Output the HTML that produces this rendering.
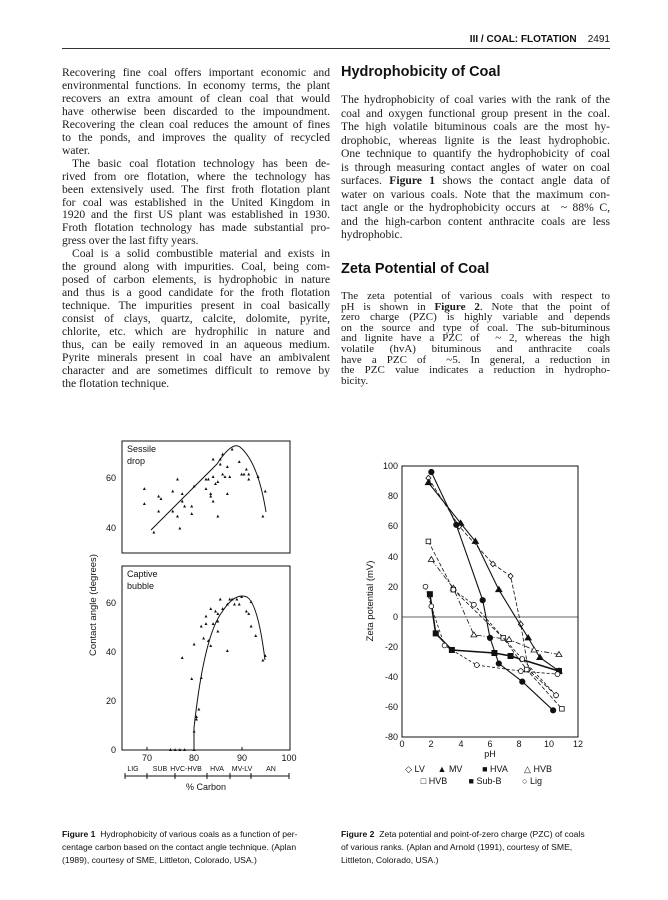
<!DOCTYPE html>
<html><head><meta charset="utf-8"><style>
body{margin:0;background:#fff;}
#pg{position:relative;width:668px;height:900px;overflow:hidden;background:#fff;}
.t{position:absolute;font-family:"Liberation Serif",serif;font-size:11.6px;line-height:13px;color:#1a1a1a;white-space:nowrap;}
.j{text-align:justify;text-align-last:justify;white-space:normal;}
.h{position:absolute;font-family:"Liberation Sans",sans-serif;font-weight:bold;font-size:14.5px;color:#111;}
.c{position:absolute;font-family:"Liberation Sans",sans-serif;font-size:8.6px;line-height:13px;color:#111;}
</style></head><body><div id="pg">
<div class="c" style="left:400px;top:33px;width:210px;text-align:right;font-size:10px;font-weight:bold;">III / COAL: FLOTATION&nbsp;&nbsp;&nbsp;&nbsp;<span style="font-weight:normal">2491</span></div>
<div style="position:absolute;left:62px;top:48px;width:548px;height:1px;background:#333"></div>

<div id="L"></div><div id="R"></div>
<div class="h" style="left:341px;top:64px;">Hydrophobicity of Coal</div>
<div class="h" style="left:341px;top:261px;">Zeta Potential of Coal</div>

<div class="c" style="left:62px;top:828px;width:268px;"><b>Figure 1</b>&nbsp; Hydrophobicity of various coals as a function of per-<br>centage carbon based on the contact angle technique. (Aplan<br>(1989), courtesy of SME, Littleton, Colorado, USA.)</div>
<div class="c" style="left:341px;top:828px;width:270px;"><b>Figure 2</b>&nbsp; Zeta potential and point-of-zero charge (PZC) of coals<br>of various ranks. (Aplan and Arnold (1991), courtesy of SME,<br>Littleton, Colorado, USA.)</div>

<svg width="668" height="900" style="position:absolute;left:0;top:0" font-family="Liberation Sans, sans-serif" font-size="9" fill="#111">
<rect x="122" y="441" width="168" height="112" fill="none" stroke="#111" stroke-width="1"/>
<rect x="122" y="566" width="168" height="184" fill="none" stroke="#111" stroke-width="1"/>
<text x="127" y="452">Sessile</text><text x="127" y="464">drop</text>
<text x="127" y="577">Captive</text><text x="127" y="589">bubble</text>
<g text-anchor="end"><text x="116" y="481">60</text><text x="116" y="531">40</text>
<text x="116" y="606">60</text><text x="116" y="655">40</text><text x="116" y="704">20</text><text x="116" y="753">0</text></g>
<g stroke="#111"><line x1="147" y1="750" x2="147" y2="747"/><line x1="194" y1="750" x2="194" y2="747"/><line x1="242" y1="750" x2="242" y2="747"/>
<line x1="125" y1="776" x2="289" y2="776"/>
<line x1="125" y1="773" x2="125" y2="779"/><line x1="147" y1="773" x2="147" y2="779"/><line x1="175" y1="773" x2="175" y2="779"/><line x1="207" y1="773" x2="207" y2="779"/><line x1="230" y1="773" x2="230" y2="779"/><line x1="251" y1="773" x2="251" y2="779"/><line x1="289" y1="773" x2="289" y2="779"/></g>
<g text-anchor="middle"><text x="147" y="761">70</text><text x="194" y="761">80</text><text x="242" y="761">90</text><text x="289" y="761">100</text>
<g font-size="7"><text x="133" y="771">LIG</text><text x="160" y="771">SUB</text><text x="186" y="771">HVC-HVB</text><text x="217" y="771">HVA</text><text x="242" y="771">MV-LV</text><text x="271" y="771">AN</text></g>
<text x="206" y="790">% Carbon</text></g>
<text transform="translate(96,605) rotate(-90)" text-anchor="middle" font-size="9.5">Contact angle (degrees)</text>
<path d="M151,530 L217,464 Q232,441 240,447 Q258,462 266,512" fill="none" stroke="#111" stroke-width="1"/>
<path d="M194,750 L194,728 Q204,636 222,612 Q235,592 247,597 Q258,604 265,660" fill="none" stroke="#111" stroke-width="1"/>
<g font-size="5" text-anchor="middle" id="p1"></g>
<rect x="402" y="466" width="176" height="271" fill="none" stroke="#111"/>
<line x1="402" y1="617" x2="578" y2="617" stroke="#333" stroke-width="0.8"/>
<g text-anchor="end" font-size="9"><text x="398" y="469">100</text><text x="398" y="499">80</text><text x="398" y="529">60</text><text x="398" y="560">40</text><text x="398" y="590">20</text><text x="398" y="620">0</text><text x="398" y="650">-20</text><text x="398" y="680">-40</text><text x="398" y="710">-60</text><text x="398" y="740">-80</text></g>
<g text-anchor="middle"><text x="402" y="747">0</text><text x="431" y="747">2</text><text x="461" y="747">4</text><text x="490" y="747">6</text><text x="519" y="747">8</text><text x="549" y="747">10</text><text x="578" y="747">12</text><text x="490" y="757">pH</text>
<text x="415" y="772">◇ LV</text><text x="450" y="772">▲ MV</text><text x="495" y="772">■ HVA</text><text x="538" y="772">△ HVB</text>
<text x="434" y="784">□ HVB</text><text x="485" y="784">■ Sub-B</text><text x="532" y="784">○ Lig</text></g>
<text transform="translate(373,601) rotate(-90)" text-anchor="middle" font-size="9.5">Zeta potential (mV)</text>
<g id="p2" fill="none" stroke="#111"></g>
</svg>
</div>
<script>
(function(){
var L=["Recovering fine coal offers important economic and","environmental functions. In economy terms, the plant","recovers an extra amount of clean coal that would","have otherwise been discarded to the impoundment.","Recovering the clean coal reduces the amount of fines","to the ponds, and improves the quality of recycled","*water.","  The basic coal flotation technology has been de-","rived from ore flotation, where the technology has","been extensively used. The first froth flotation plant","for coal was established in the United Kingdom in","1920 and the first US plant was established in 1930.","Froth flotation technology has made substantial pro-","*gress over the last fifty years.","  Coal is a solid combustible material and exists in","the ground along with impurities. Coal, being com-","posed of carbon elements, is hydrophobic in nature","and thus is a good candidate for the froth flotation","technique. The impurities present in coal basically","consist of clays, quartz, calcite, dolomite, pyrite,","chlorite, etc. which are hydrophilic in nature and","thus, can be eaily removed in an aqueous medium.","Pyrite minerals present in coal have an ambivalent","character and are sometimes difficult to remove by","*the flotation technique."];
var R1=["The hydrophobicity of coal varies with the rank of the","coal and oxygen functional group present in the coal.","The high volatile bituminous coals are the most hy-","drophobic, whereas lignite is the least hydrophobic.","One technique to quantify the hydrophobicity of coal","is through measuring contact angles of water on coal","surfaces. <b>Figure 1</b> shows the contact angle data of","water on various coals. Note that the maximum con-","tact angle or the hydrophobicity occurs at &nbsp;~ 88% C,","and the high-carbon content anthracite coals are less","*hydrophobic."];
var R2=["The zeta potential of various coals with respect to","pH is shown in <b>Figure 2</b>. Note that the point of","zero charge (PZC) is highly variable and depends","on the source and type of coal. The sub-bituminous","and lignite have a PZC of &nbsp;~ 2, whereas the high","volatile (hvA) bituminous and anthracite coals","have a PZC of &nbsp;~5. In general, a reduction in","the PZC value indicates a reduction in hydropho-","*bicity."];
function put(arr,x,y0,dy,w,fs){var h="";arr.forEach(function(s,i){var last=s[0]=="*";if(last)s=s.slice(1);var ind=s.indexOf("  ")==0;if(ind)s=s.slice(2);
h+='<div class="t'+(last?'':' j')+'" style="font-size:'+fs+'px;left:'+(x+(ind?10:0))+'px;top:'+(y0+i*dy-7)+'px;width:'+(w-(ind?10:0))+'px">'+s+'</div>';});return h;}
document.getElementById("L").innerHTML=put(L,62,73,12.95,268,11.6);
document.getElementById("R").innerHTML=put(R1,341,100,13.5,269,11.6)+put(R2,341,297,10.6,269,11);
var X=function(c){return 146.7+(c-70)*4.743},Yt=function(a){return 478.3-(a-60)*2.47},Yb=function(a){return 750.3-a*2.45};
var tp=[[69.5,56],[69.5,50],[71.5,38.5],[72.5,53],[72.5,47],[73,52],[75.5,55],[75.5,47],[76.5,60],[76.5,45],[77,40],[77.5,54],[77.5,51],[78,49],[79.5,49],[79.5,46],[80,57],[82.5,56],[82.5,60],[83,60],[83.5,54],[83.5,53],[84,51],[84,61],[84,68],[84.5,58],[85,45],[85,59],[85.5,66],[85.5,68],[86,62],[86,70],[86.5,61],[87,54],[87,65],[87.5,61],[88,72],[89.5,67],[90,62],[90.5,62],[91,64],[91.5,60],[91.5,62],[93.5,61],[94.5,45],[95,55]];
var bt=[[75,0.5],[76,0.5],[77,0.5],[78,0.5],[80,0.5],[80,8],[80.5,13],[80.5,14],[80,43.5],[79.5,29.5],[81.5,30],[81.5,51],[82,46],[82.5,55],[82.5,52],[83,45],[83.5,43],[83.5,58],[84,52],[84.5,57],[85,53],[85,56],[85,49],[85.5,62],[86,58],[87,60],[87,41],[87.5,62],[88,62],[88.5,60],[89,62],[89.5,60],[90,63],[91,57],[91.5,56],[92,51],[92,61],[93,47],[94.5,37],[95,39],[77.5,38],[81,17]];
var s="";
tp.forEach(function(p){s+='<text x="'+X(p[0])+'" y="'+(Yt(p[1])+2)+'">▲</text>'});
bt.forEach(function(p){s+='<text x="'+X(p[0])+'" y="'+(Yb(p[1])+2)+'">▲</text>'});
document.getElementById("p1").innerHTML=s;
var PX=function(p){return 402+p*14.67},PY=function(z){return 466+(100-z)*1.508};
var ser=[
{d:[[1.8,92],[3.9,60],[6.2,35],[7.4,27],[8.1,-5],[8.6,-35],[10.5,-52]],m:"od",da:"4,2",w:0.8},
{d:[[1.8,89],[4.0,62],[5.0,50],[6.6,18],[8.6,-14],[9.4,-27],[10.7,-36]],m:"ft",da:"",w:1.1},
{d:[[2.0,96],[3.7,61],[5.5,11],[6.0,-14],[6.6,-31],[8.2,-43],[10.3,-62]],m:"fc",da:"",w:1.1},
{d:[[2.0,38],[3.5,19],[4.9,-12],[7.3,-15],[9.0,-22],[10.7,-25]],m:"ot",da:"5,2,1,2",w:0.8},
{d:[[1.8,50],[3.5,18],[6.9,-14],[8.5,-35],[10.9,-61]],m:"os",da:"4,2",w:0.8},
{d:[[1.9,15],[2.3,-11],[3.4,-22],[6.3,-24],[7.4,-26],[10.7,-36]],m:"fs",da:"",w:1.6},
{d:[[1.6,20],[2.0,7],[2.9,-19],[5.1,-32],[8.1,-36],[10.6,-38]],m:"oc",da:"3,2",w:0.8},
{d:[[3.5,18],[4.9,8],[8.2,-28],[10.5,-52]],m:"oc",da:"3,2",w:0.8}];
var h="";
ser.forEach(function(S){var pts=S.d.map(function(p){return PX(p[0]).toFixed(1)+","+PY(p[1]).toFixed(1)}).join(" ");
h+='<polyline points="'+pts+'" stroke-width="'+S.w+'"'+(S.da?' stroke-dasharray="'+S.da+'"':'')+'/>';
S.d.forEach(function(p){var x=PX(p[0]),y=PY(p[1]);
if(S.m=="fc")h+='<circle cx="'+x+'" cy="'+y+'" r="2.6" fill="#111"/>';
else if(S.m=="oc")h+='<circle cx="'+x+'" cy="'+y+'" r="2.4" fill="#fff" stroke-width="0.8"/>';
else if(S.m=="fs")h+='<rect x="'+(x-2.5)+'" y="'+(y-2.5)+'" width="5" height="5" fill="#111"/>';
else if(S.m=="os")h+='<rect x="'+(x-2.3)+'" y="'+(y-2.3)+'" width="4.6" height="4.6" fill="#fff" stroke-width="0.8"/>';
else if(S.m=="ft")h+='<polygon points="'+x+','+(y-3)+' '+(x-3)+','+(y+2)+' '+(x+3)+','+(y+2)+'" fill="#111"/>';
else if(S.m=="ot")h+='<polygon points="'+x+','+(y-3)+' '+(x-3)+','+(y+2)+' '+(x+3)+','+(y+2)+'" fill="#fff" stroke-width="0.8"/>';
else h+='<polygon points="'+x+','+(y-2.8)+' '+(x+2.5)+','+y+' '+x+','+(y+2.8)+' '+(x-2.5)+','+y+'" fill="#fff" stroke-width="0.8"/>';});});
document.getElementById("p2").innerHTML=h;
})();
</script>
</body></html>
